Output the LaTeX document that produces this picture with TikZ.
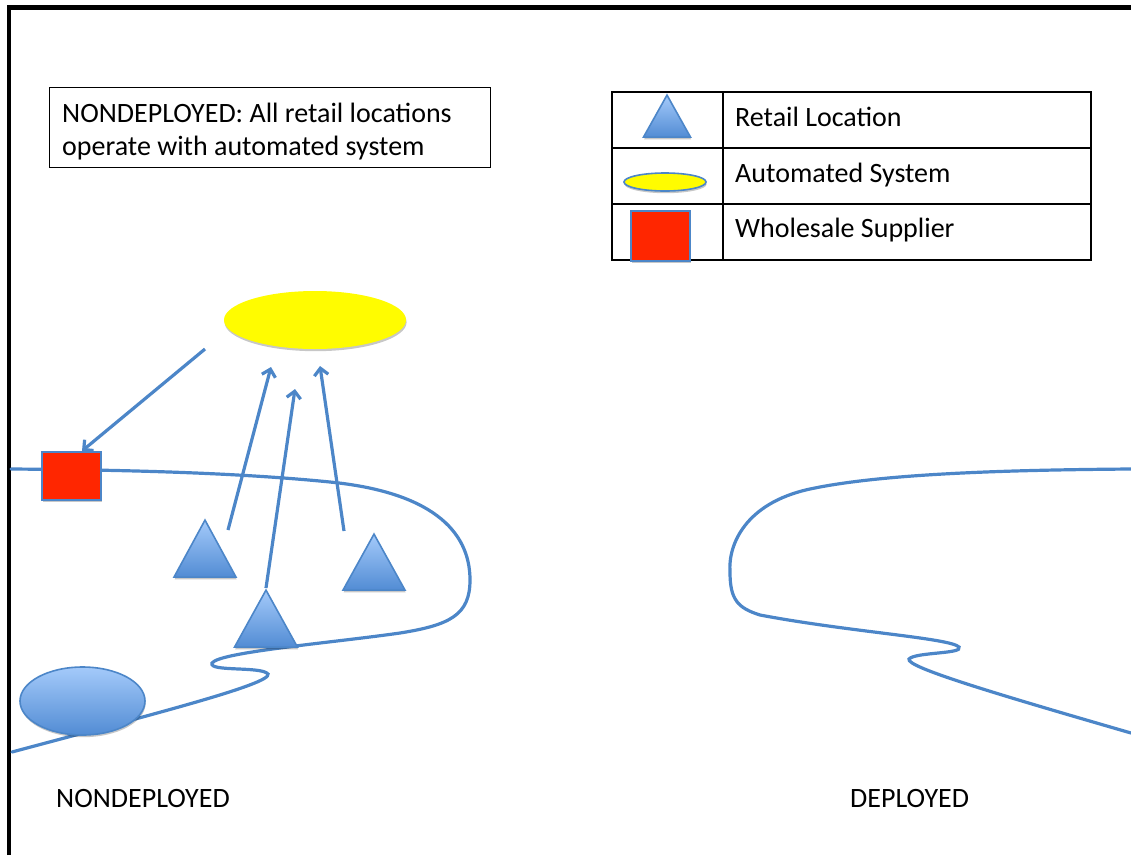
\documentclass[tikz,border=0pt]{standalone}
\usepackage{fontspec}
\setmainfont{Carlito}
\usetikzlibrary{arrows.meta,shapes.geometric,shadows,calc}

\definecolor{lineblue}{RGB}{76,134,200}
\definecolor{shapeTop}{RGB}{164,202,250}
\definecolor{shapeBot}{RGB}{82,140,212}
\definecolor{suppred}{RGB}{255,38,0}
\definecolor{sysyellow}{RGB}{255,252,0}

\tikzset{
  lbl/.style={font=\fontsize{28}{32.5}\selectfont, inner sep=0pt},
  soft/.style={drop shadow={shadow xshift=0.6pt, shadow yshift=-2.2pt, opacity=0.22, fill=black}},
  retail/.style={isosceles triangle, isosceles triangle stretches, shape border rotate=90,
    inner sep=0pt, anchor=apex, top color=shapeTop, bottom color=shapeBot, draw=lineblue, line width=1.6pt, soft},
  system/.style={ellipse, inner sep=0pt, fill=sysyellow, soft},
  supplier/.style={rectangle, inner sep=0pt, fill=suppred, draw=lineblue, line width=2pt, soft},
  flow/.style={draw=lineblue, line width=3.2pt, -{Straight Barb[length=7pt,width=14pt]}},
  border/.style={draw=lineblue, line width=3.2pt, line cap=round},
  frame/.style={line width=4.5pt},
  grid/.style={line width=1.3pt}
}

\begin{document}
\begin{tikzpicture}[x=1pt,y=-1pt]
\useasboundingbox (0,0) rectangle (1131,855);

% outer frame (top and left edges)
\draw[frame] (9,855) -- (9,7.5) -- (1131,7.5);

% region boundaries
\draw[border] (11,469)
  .. controls (150,470) and (250,474) .. (330,482)
  .. controls (430,492) and (470,530) .. (470,580)
  .. controls (470,615) and (450,625) .. (400,633)
  .. controls (330,643) and (220,652) .. (212,663)
  .. controls (208,672) and (262,666) .. (268,674)
  .. controls (272,684) and (150,715) .. (12,752);
\draw[border] (1131,469)
  .. controls (1000,470) and (880,474) .. (810,489)
  .. controls (745,503) and (728,545) .. (730,572)
  .. controls (730,600) and (738,608) .. (760,615)
  .. controls (850,632) and (950,638) .. (959,647)
  .. controls (964,654) and (915,652) .. (909,659)
  .. controls (905,667) and (1000,695) .. (1131,733);

% heading box
\node[draw, line width=1.3pt, anchor=north west, minimum width=441pt, minimum height=80pt,
      inner sep=0pt] (note) at (49,87) {};
\node[lbl, anchor=base west, align=left] (noteTxt) at (62,155)
  {NONDEPLOYED: All retail locations\\operate with automated system};

% legend table
\draw[grid] (612,92) rectangle (1091,260);
\draw[grid] (612,148) -- (1091,148);
\draw[grid] (612,204) -- (1091,204);
\draw[grid] (723,92) -- (723,260);
\node[retail, minimum width=47pt, minimum height=42pt] (lgTri) at (667,93) {};
\node[system, draw=lineblue, line width=1.6pt, minimum width=82pt, minimum height=18pt] (lgSys) at (665,182) {};
\node[supplier, minimum width=59pt, minimum height=50pt] (lgSup) at (660.5,236) {};
\node[lbl, anchor=base west] (lgRetailTxt) at (735,126) {Retail Location};
\node[lbl, anchor=base west] (lgSysTxt) at (735,182) {Automated System};
\node[lbl, anchor=base west] (lgSupTxt) at (735,237) {Wholesale Supplier};

% shapes of the non-deployed side
\node[system, minimum width=182pt, minimum height=58pt] (sys) at (315,320) {};
\node[supplier, minimum width=59pt, minimum height=48pt] (sup) at (71.5,476) {};
\node[retail, minimum width=62pt, minimum height=57pt] (t1) at (205,518) {};
\node[retail, minimum width=63pt, minimum height=57pt] (t2) at (266,588) {};
\node[retail, minimum width=62pt, minimum height=56pt] (t3) at (374,532) {};
\node[ellipse, inner sep=0pt, top color=shapeTop, bottom color=shapeBot, draw=lineblue,
      line width=1.6pt, soft, minimum width=125pt, minimum height=68pt] (hub) at (82.5,701) {};

% flows
\coordinate (sysOut) at (205,349);
\coordinate (t1Out) at (228,530);
\coordinate (t3Out) at (344,531);
\coordinate (in1) at (271,367);
\coordinate (in2) at (295,389);
\coordinate (in3) at (320,366);
\draw[flow] (sysOut) -- ($(sup.north)+(10.5,0)$);
\draw[flow] (t1Out) -- (in1);
\draw[flow] (t2.apex) -- (in2);
\draw[flow] (t3Out) -- (in3);

% region names
\node[lbl, anchor=base west] (leftName) at (56,807) {NONDEPLOYED};
\node[lbl, anchor=base west] (rightName) at (850,807) {DEPLOYED};
\end{tikzpicture}
\end{document}
